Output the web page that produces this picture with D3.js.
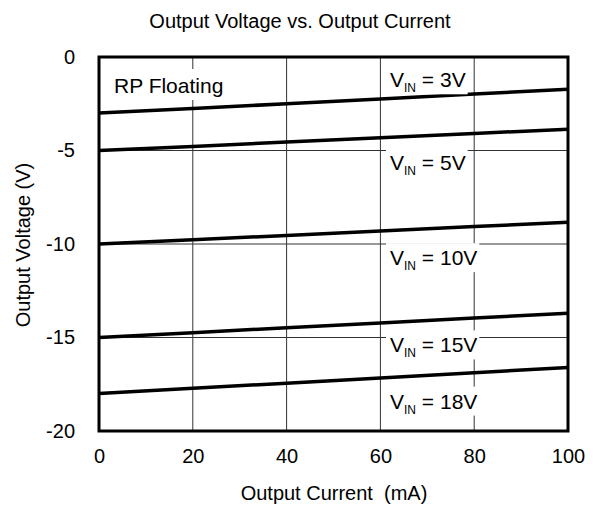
<!DOCTYPE html>
<html><head><meta charset="utf-8">
<script src="https://cdn.jsdelivr.net/npm/d3@7"></script>
<style>body{margin:0;background:#fff;} svg{display:block;font-family:"Liberation Sans",Arial,sans-serif;}</style>
</head><body>
<svg id="c" width="600" height="512"></svg>
<script>
const currents = [0, 20, 40, 60, 80, 100];
const vin3  = [-3.0, -2.75, -2.5, -2.24, -1.98, -1.72];
const vin5  = [-5.0, -4.78, -4.55, -4.32, -4.09, -3.86];
const vin10 = [-10.0, -9.77, -9.54, -9.3, -9.07, -8.84];
const vin15 = [-15.0, -14.74, -14.48, -14.22, -13.96, -13.7];
const vin18 = [-18.0, -17.72, -17.44, -17.16, -16.88, -16.6];
const seriesNames = ["3V", "5V", "10V", "15V", "18V"];
const xTicks = [0, 20, 40, 60, 80, 100];
const yTicks = [0, -5, -10, -15, -20];
const labelAt = [-1.62, -6.05, -11.13, -15.8, -18.8]; // label baseline values (V)

const FONT = "Liberation Sans, Arial, sans-serif";
const svg = d3.select("#c");
const L = 99, R = 568, T = 57, B = 431;
const x = d3.scaleLinear().domain([0, 100]).range([L, R]);
const y = d3.scaleLinear().domain([-20, 0]).range([B, T]);

svg.append("text").attr("x", 300).attr("y", 28).attr("text-anchor", "middle")
  .attr("font-size", 20).text("Output Voltage vs. Output Current");

// grid
const g = svg.append("g");
g.selectAll("line.v").data(xTicks.slice(1, -1)).join("line")
  .attr("x1", d => x(d)).attr("x2", d => x(d)).attr("y1", T).attr("y2", B)
  .attr("stroke", "#333").attr("stroke-width", 1);
g.selectAll("line.h").data(yTicks.slice(1, -1)).join("line")
  .attr("x1", L).attr("x2", R).attr("y1", d => y(d)).attr("y2", d => y(d))
  .attr("stroke", "#333").attr("stroke-width", 1);

// axes
const xAxis = d3.axisBottom(x).tickValues(xTicks).tickSize(0).tickPadding(18).tickFormat(d => String(d));
const xa = svg.append("g").attr("transform", `translate(0,${B})`).call(xAxis);
xa.select(".domain").remove();
xa.selectAll("text").attr("font-size", 20).attr("fill", "#000").attr("font-family", FONT);
const yAxis = d3.axisLeft(y).tickValues(yTicks).tickSize(0).tickPadding(24).tickFormat(d => String(d));
const ya = svg.append("g").attr("transform", `translate(${L},0)`).call(yAxis);
ya.select(".domain").remove();
ya.selectAll("text").attr("font-size", 20).attr("fill", "#000").attr("font-family", FONT);

svg.append("text").attr("x", 334).attr("y", 500).attr("text-anchor", "middle")
  .attr("font-size", 20).style("white-space", "pre").text("Output Current  (mA)");
svg.append("text").attr("transform", "translate(30,245) rotate(-90)").attr("text-anchor", "middle")
  .attr("font-size", 20).text("Output Voltage (V)");

// series lines
const allSeries = [vin3, vin5, vin10, vin15, vin18];
const line = d3.line().x((d, i) => x(currents[i])).y(d => y(d));
svg.selectAll("path.s").data(allSeries).join("path")
  .attr("d", d => line(d)).attr("fill", "none").attr("stroke", "#000").attr("stroke-width", 3.5);

// labels with white boxes
const lab = svg.append("g");
seriesNames.forEach((n, i) => {
  const by = y(labelAt[i]);
  const gg = lab.append("g");
  const t = gg.append("text").attr("x", 390).attr("y", by).attr("font-size", 21);
  t.append("tspan").text("V");
  t.append("tspan").attr("font-size", 12).attr("dy", 5).text("IN");
  t.append("tspan").attr("dy", -5).text(" = " + n);
  const bb = t.node().getBBox();
  gg.insert("rect", "text").attr("x", bb.x - 4).attr("y", bb.y - 3)
    .attr("width", bb.width + 6).attr("height", bb.height + 2).attr("fill", "#fff");
});

// RP Floating
const rp = svg.append("g");
const rpt = rp.append("text").attr("x", 114).attr("y", 93).attr("font-size", 21).text("RP Floating");
const rb = rpt.node().getBBox();
rp.insert("rect", "text").attr("x", rb.x - 3).attr("y", rb.y - 5)
  .attr("width", rb.width + 6).attr("height", rb.height + 8).attr("fill", "#fff");

// frame
svg.append("rect").attr("x", L).attr("y", T).attr("width", R - L).attr("height", B - T)
  .attr("fill", "none").attr("stroke", "#000").attr("stroke-width", 3);
</script>
</body></html>
